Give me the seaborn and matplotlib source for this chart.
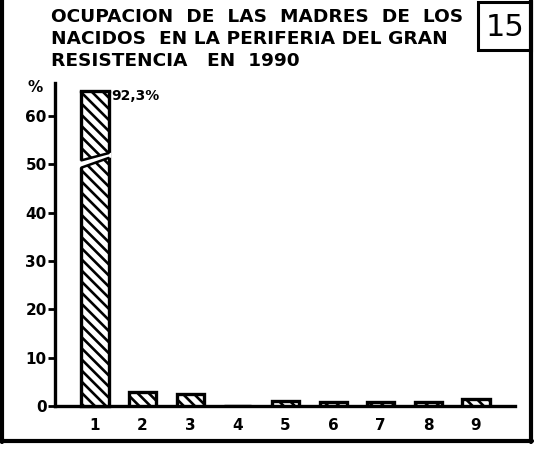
import matplotlib
matplotlib.use("Agg")
import matplotlib.pyplot as plt
from matplotlib.patches import Rectangle, Polygon
from matplotlib.lines import Line2D
import seaborn as sns
import pandas as pd

# Occupation categories (coded 1-9) and share of mothers in each (%)
categories = ["1", "2", "3", "4", "5", "6", "7", "8", "9"]
percent = [92.3, 2.8, 2.4, 0.0, 1.0, 0.9, 0.9, 0.8, 1.5]
y_ticks = [0, 10, 20, 30, 40, 50, 60]
title_lines = [
    "OCUPACION  DE  LAS  MADRES  DE  LOS",
    "NACIDOS  EN LA PERIFERIA DEL GRAN",
    "RESISTENCIA   EN  1990",
]
plate_number = "15"
peak_label = "92,3%"

df = pd.DataFrame({"cat": categories, "pct": percent})

sns.set_theme(style="white")
plt.rcParams["font.family"] = ["DejaVu Sans"]
plt.rcParams["hatch.linewidth"] = 1.9
plt.rcParams["hatch.color"] = "black"
for key in ["text.color", "axes.labelcolor", "xtick.color", "ytick.color"]:
    plt.rcParams[key] = "black"

W, H = 541, 450
fig = plt.figure(figsize=(W / 100, H / 100), dpi=100)
fig.patch.set_facecolor("white")

# axes box in pixel terms: left 55, right 515, baseline 406, top 83
ax = fig.add_axes([55 / W, 1 - 406 / H, (515 - 55) / W, (406 - 83) / H])
ax.set_facecolor("white")

sns.barplot(data=df, x="cat", y="pct", order=categories, color="white",
            edgecolor="black", linewidth=2.4, width=0.57, hatch="\\\\\\",
            saturation=1, ax=ax, zorder=3)

ymax = 66.8
cut = 65.2  # visible top of the broken first bar
ax.set_ylim(0, ymax)
ax.set_xlim(-0.84, 8.82)

# tall bar is cut off with a broken top
first = ax.patches[0]
x0, x1 = first.get_x(), first.get_x() + first.get_width()
clip = Rectangle((-2, -5), 14, cut + 5, transform=ax.transData)
first.set_clip_path(clip)
ax.plot([x0, x1], [cut, cut], color="black", lw=2.4, zorder=4,
        solid_capstyle="projecting")
gap = Polygon([(x0 - 0.06, 49.2), (x1 + 0.06, 51.4), (x1 + 0.06, 52.4), (x0 - 0.06, 50.7)],
              closed=True, facecolor="white", edgecolor="none", zorder=5)
ax.add_patch(gap)
ax.plot([x0, x1], [49.3, 51.3], color="black", lw=1.8, zorder=6)
ax.plot([x0, x1], [50.8, 52.3], color="black", lw=1.8, zorder=6)

ax.text(x1 + 0.05, cut - 1.0, peak_label, fontsize=10, fontweight="bold",
        ha="left", va="center")

# axes styling
for s in ["top", "right"]:
    ax.spines[s].set_visible(False)
for s in ["left", "bottom"]:
    ax.spines[s].set_linewidth(2.4)
    ax.spines[s].set_color("black")
ax.set_yticks(y_ticks)
ax.set_yticklabels([str(v) for v in y_ticks], fontsize=11, fontweight="bold")
ax.tick_params(axis="y", length=5, width=2, color="black", pad=1, left=True)
ax.tick_params(axis="x", length=0, pad=9, labelsize=11)
for lab in ax.get_xticklabels():
    lab.set_fontweight("bold")
ax.set_xlabel("")
ax.set_ylabel("")
ax.grid(False)
fig.text(28 / W, 1 - 88 / H, "%", fontsize=11, fontweight="bold", ha="left", va="center")

# title block
for i, line in enumerate(title_lines):
    fig.text(51 / W, 1 - (17 + 22 * i) / H, line, fontsize=13.3, fontweight="bold",
             ha="left", va="center")

# plate number box
fig.patches.append(Rectangle((478 / W, 1 - 50 / H), (531 - 478) / W, 48 / H,
                             transform=fig.transFigure, fill=False,
                             edgecolor="black", linewidth=2.2))
fig.text(505 / W, 1 - 27 / H, plate_number, fontsize=22, ha="center", va="center")

# outer frame
for xs, ys in [([2, 2], [0, 442]), ([0, 532], [441, 441]), ([531, 531], [0, 442])]:
    fig.lines.append(Line2D([x / W for x in xs], [1 - y / H for y in ys],
                            transform=fig.transFigure, color="black", lw=3))

fig.savefig("out.png", dpi=100)
